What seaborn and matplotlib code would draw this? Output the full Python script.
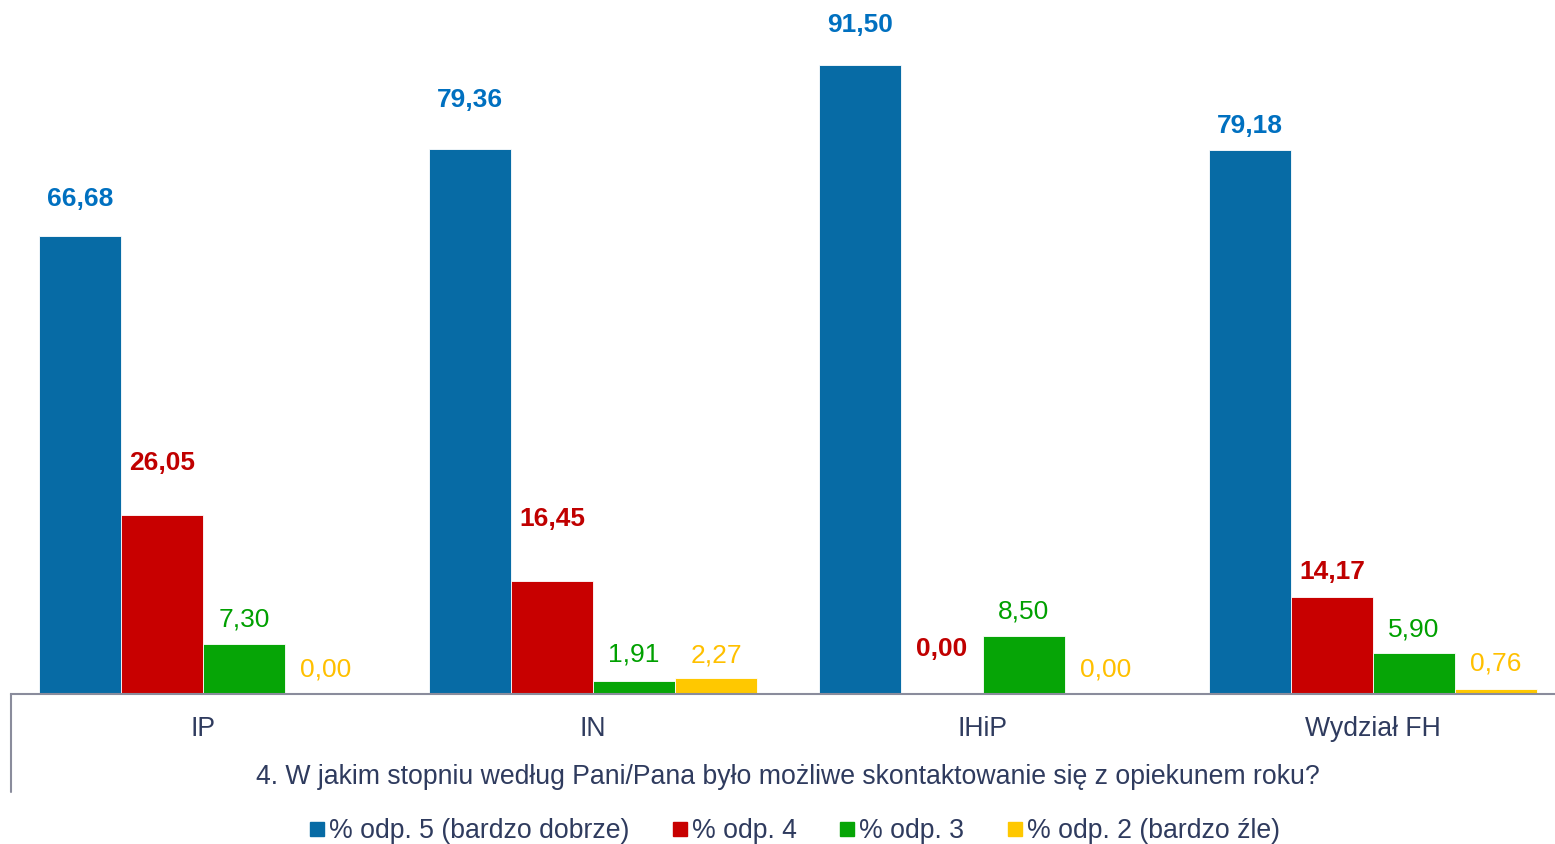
import matplotlib
matplotlib.use("Agg")
import matplotlib.pyplot as plt
from matplotlib.lines import Line2D
import seaborn as sns
import pandas as pd

# Survey data: share of answers per unit
categories = ["IP", "IN", "IHiP", "Wydział FH"]
series = ["% odp. 5 (bardzo dobrze)", "% odp. 4", "% odp. 3", "% odp. 2 (bardzo źle)"]
odp5 = [66.68, 79.36, 91.50, 79.18]
odp4 = [26.05, 16.45, 0.00, 14.17]
odp3 = [7.30, 1.91, 8.50, 5.90]
odp2 = [0.00, 2.27, 0.00, 0.76]
question = "4. W jakim stopniu według Pani/Pana było możliwe skontaktowanie się z opiekunem roku?"

# Styling
bar_colors = ["#076BA5", "#C80000", "#06A506", "#FFC800"]
label_colors = ["#0070C0", "#C00000", "#00A000", "#FFC000"]
label_weights = ["bold", "bold", "normal", "normal"]
# vertical gap (pixels) between each bar top and the centre of its value label
label_gap = [
    [37, 49, 40, 24],
    [52, 62, 45, 25],
    [24, 26, 24, 24],
    [25, 23, 25, 25],
]
text_color = "#2F3B5E"
axis_color = "#8A8C9C"
fs = 19.2

values = [odp5, odp4, odp3, odp2]
df = pd.DataFrame(
    [(c, s, v) for s, vals in zip(series, values) for c, v in zip(categories, vals)],
    columns=["kategoria", "seria", "wartosc"],
)

sns.set_theme(style="white")
plt.rcParams["font.family"] = ["Liberation Sans", "DejaVu Sans"]

W, H = 1555, 844
fig = plt.figure(figsize=(W / 100, H / 100), dpi=100)
left_px, right_px, base_px = 8, 1568, 694
line_px = 11
ax = fig.add_axes([left_px / W, 1 - base_px / H, (right_px - left_px) / W, base_px / H])

sns.barplot(
    data=df, x="kategoria", y="wartosc", hue="seria",
    order=categories, hue_order=series, palette=bar_colors,
    width=0.841, gap=0, saturation=1, errorbar=None,
    edgecolor="white", linewidth=0.6, legend=False, ax=ax,
)
ax.set_ylim(0, 101)
ax.set_xlim(-0.5, 3.5)
ax.set_yticks([])
ax.set_ylabel("")
ax.set_xlabel(question, fontsize=fs, color=text_color, labelpad=16)
ax.tick_params(axis="x", length=0, pad=16, labelsize=fs, labelcolor=text_color)

for side in ["top", "right", "left"]:
    ax.spines[side].set_visible(False)
slot_px = (right_px - left_px) / 4
ax.spines["bottom"].set_bounds(-0.5 + (line_px - left_px) / slot_px, 3.5)
ax.spines["bottom"].set_color(axis_color)
ax.spines["bottom"].set_linewidth(1.5)
# grouping line continuing below the baseline on the left
ax.add_line(Line2D([line_px / W, line_px / W], [1 - base_px / H, 1 - 792 / H],
                   transform=fig.transFigure, color=axis_color, linewidth=1.5,
                   clip_on=False))

for i, container in enumerate(ax.containers):
    for j, bar in enumerate(container):
        v = values[i][j]
        ax.annotate(
            f"{v:.2f}".replace(".", ","),
            xy=(bar.get_x() + bar.get_width() / 2, v),
            xytext=(0, label_gap[i][j]), textcoords="offset pixels",
            ha="center", va="center", fontsize=19,
            color=label_colors[i], fontweight=label_weights[i],
        )

handles = [Line2D([], [], marker="s", linestyle="none", markersize=10,
                  markerfacecolor=c, markeredgecolor=c) for c in bar_colors]
fig.legend(handles, series, loc="center", bbox_to_anchor=(793 / W, 1 - 831 / H),
           ncol=4, frameon=False, fontsize=fs, labelcolor=text_color,
           handletextpad=0.05, columnspacing=1.5, handlelength=0.8)

fig.savefig("out.png", dpi=100)
